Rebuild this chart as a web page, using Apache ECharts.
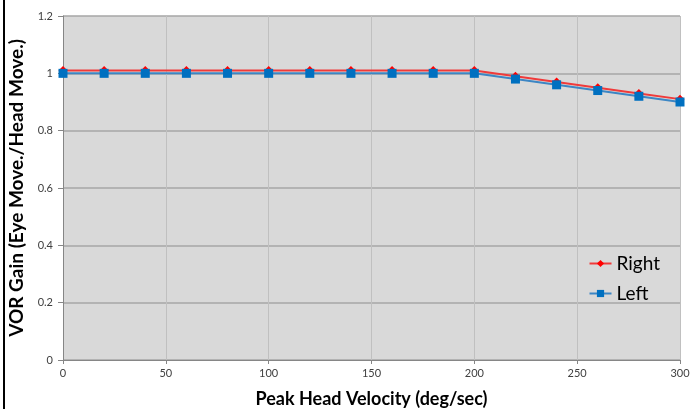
<!DOCTYPE html>
<html><head><meta charset="utf-8">
<script src="https://cdn.jsdelivr.net/npm/echarts@6/dist/echarts.min.js"></script>
<style>html,body{margin:0;padding:0;background:#fff}#c{width:690px;height:411px}</style>
</head><body><div id="c"></div>
<script>
const velocity = [0,20,40,60,80,100,120,140,160,180,200,220,240,260,280,300];
const rightGain = [1.01,1.01,1.01,1.01,1.01,1.01,1.01,1.01,1.01,1.01,1.01,0.99,0.97,0.95,0.93,0.91];
const leftGain  = [1.00,1.00,1.00,1.00,1.00,1.00,1.00,1.00,1.00,1.00,1.00,0.98,0.96,0.94,0.92,0.90];
const xTitle = 'Peak Head Velocity (deg/sec)';
const yTitle = 'VOR Gain (Eye Move./Head Move.)';
const font = 'Lato, "Open Sans", sans-serif';
const chart = echarts.init(document.getElementById('c'));
chart.setOption({
  animation:false,
  backgroundColor:'#fff',
  grid:{left:63,right:10,top:16,bottom:51,show:true,backgroundColor:'#d9d9d9',borderWidth:0,outerBoundsMode:'none',containLabel:false},
  legend:{
    orient:'vertical', right:25, top:249, itemWidth:22, itemHeight:9, itemGap:11,
    textStyle:{fontFamily:font,fontSize:19,color:'#000'},
    data:['Right','Left']
  },
  graphic:[{type:'line',shape:{x1:4,y1:0,x2:4,y2:409},style:{stroke:'#000',lineWidth:2}}],
  xAxis:{
    type:'value',min:0,max:300,interval:50,
    name:xTitle,nameLocation:'middle',nameGap:30,
    nameTextStyle:{fontFamily:font,fontSize:18,fontWeight:'bold',color:'#000'},
    axisLine:{show:true,lineStyle:{color:'#868686'}},
    axisTick:{show:true,length:4,lineStyle:{color:'#868686'}},
    axisLabel:{fontFamily:font,fontSize:11,color:'#404040',margin:8},
    splitLine:{show:true,lineStyle:{color:'#c0c0c0',width:1}}
  },
  yAxis:{
    type:'value',min:0,max:1.2,interval:0.2,
    name:yTitle,nameLocation:'middle',nameGap:27,
    nameTextStyle:{fontFamily:font,fontSize:19,fontWeight:'bold',color:'#000'},
    axisLine:{show:true,lineStyle:{color:'#868686'}},
    axisTick:{show:true,length:5,lineStyle:{color:'#868686'}},
    axisLabel:{fontFamily:font,fontSize:11,color:'#404040',margin:10,
      formatter:v=>String(Math.round(v*10)/10)},
    splitLine:{show:true,lineStyle:{color:'#a6a6a6',width:1.5}}
  },
  series:[
    {name:'Right',type:'line',data:velocity.map((x,i)=>[x,rightGain[i]]),
     symbol:'diamond',symbolSize:9,itemStyle:{color:'#ff0000'},
     lineStyle:{color:'#f03a3a',width:2}},
    {name:'Left',type:'line',data:velocity.map((x,i)=>[x,leftGain[i]]),
     symbol:'rect',symbolSize:9,itemStyle:{color:'#0070c0'},
     lineStyle:{color:'#3c86c4',width:2}}
  ]
});
</script></body></html>
